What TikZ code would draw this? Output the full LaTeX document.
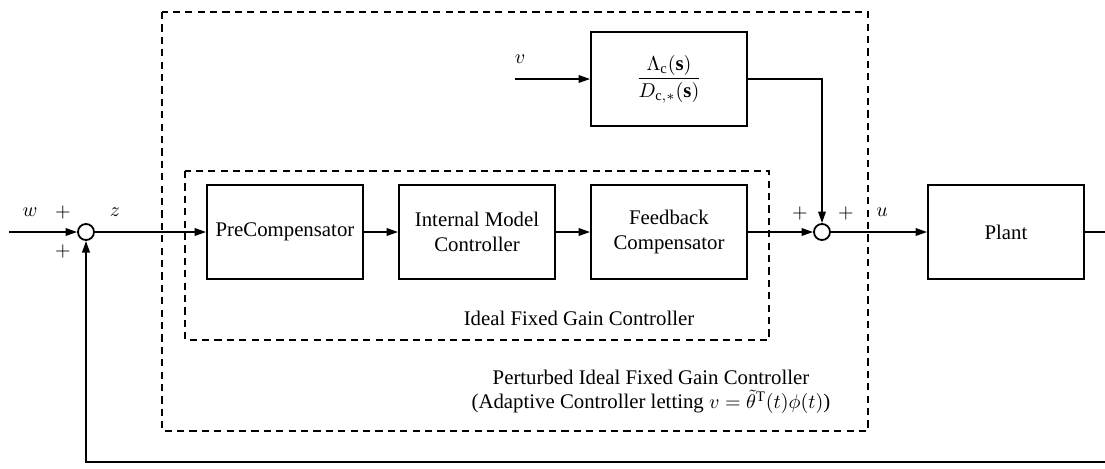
\documentclass[tikz,border=0pt]{standalone}
\usepackage{fontspec}
\setmainfont{Liberation Serif}
\usetikzlibrary{arrows.meta}
\tikzset{
  blk/.style={draw, line width=0.9pt, minimum width=78pt, minimum height=47pt, align=center, inner sep=1pt, font=\fontsize{10.4}{12.5}\selectfont},
  sumj/.style={draw, circle, line width=0.9pt, minimum size=8pt, inner sep=0pt},
  conn/.style={line width=0.9pt},
  arr/.style={conn, -{Triangle[length=5.8pt, width=3.8pt]}},
  dashbox/.style={line width=0.8pt, dash pattern=on 3.6pt off 2.6pt},
  lbl/.style={font=\fontsize{10.4}{12.5}\selectfont, inner sep=0pt}
}
\begin{document}
\begin{tikzpicture}[x=0.5pt, y=-0.5pt]
\useasboundingbox (0,0) rectangle (1105,468);
% dashed groups
\draw[dashbox] (162,12) rectangle (868,431);
\draw[dashbox] (185,171) rectangle (769,340);
% blocks
\node[blk] (pre) at (285,232) {PreCompensator};
\node[blk] (imc) at (477,232) {Internal Model\\Controller};
\node[blk] (fc) at (669,232) {Feedback\\Compensator};
\node[blk] (plant) at (1006,232) {Plant};
\node[blk] (lam) at (669,79) {$\displaystyle\frac{\Lambda_{\mathrm{c}}(\mathbf{s})}{D_{\mathrm{c},*}(\mathbf{s})}$};
\node[sumj] (s1) at (86,232) {};
\node[sumj] (s2) at (822,232) {};
\coordinate (in) at (9,232);
\coordinate (out) at (1105,232);
\coordinate (fbr) at (1105,462);
\coordinate (vin) at (515,79);
% connectors
\draw[arr] (in) -- (s1);
\draw[arr] (s1) -- (pre);
\draw[arr] (pre) -- (imc);
\draw[arr] (imc) -- (fc);
\draw[arr] (fc) -- (s2);
\draw[arr] (s2) -- (plant);
\draw[conn] (plant) -- (out);
\draw[arr] (fbr) -| (s1.south);
\draw[arr] (vin) -- (lam);
\draw[arr] (lam.east) -| (s2.north);
% labels
\node[lbl] (lw) at (30,212) {$w$};
\node[lbl] (lp1) at (63,212) {$+$};
\node[lbl] (lp2) at (63,251) {$+$};
\node[lbl] (lz) at (115,212) {$z$};
\node[lbl] (lp3) at (800,213) {$+$};
\node[lbl] (lp4) at (846,213) {$+$};
\node[lbl] (lu) at (882,212) {$u$};
\node[lbl] (lv) at (520,59) {$v$};
\node[lbl] (lifg) at (579,318) {Ideal Fixed Gain Controller};
\node[lbl, align=center, font=\fontsize{10.4}{12}\selectfont] (lpert) at (651,392) {Perturbed Ideal Fixed Gain Controller\\(Adaptive Controller letting $v=\tilde{\theta}^{\mathrm{T}}(t)\phi(t)$)};
\end{tikzpicture}
\end{document}
